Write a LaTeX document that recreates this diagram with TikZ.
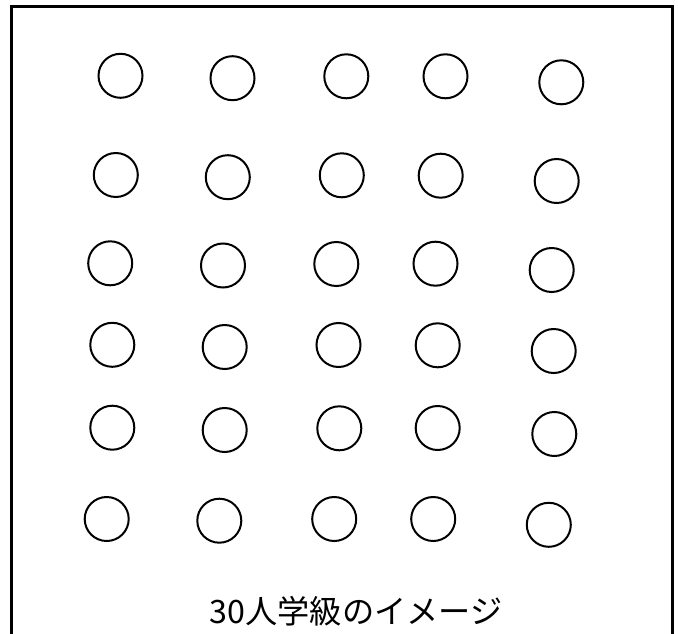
\documentclass[tikz,border=0pt]{standalone}
\usepackage{fontspec}
\newfontfamily\cjk{Noto Sans CJK JP}
\begin{document}
\begin{tikzpicture}[x=1pt,y=-1pt,
  seat/.style={circle,draw=black,line width=2pt,minimum size=44pt,inner sep=0pt},
  frameline/.style={line width=3pt,line join=miter}]
\useasboundingbox (0,0) rectangle (678,634);
\draw[frameline] (11.5,640) -- (11.5,6.3) -- (672.2,6.3) -- (672.2,640);
% row 1
\node[seat] (s11) at (120.5,75.8) {};
\node[seat] (s12) at (232.5,78.2) {};
\node[seat] (s13) at (346.3,76.3) {};
\node[seat] (s14) at (445.5,76.3) {};
\node[seat] (s15) at (561.3,82.3) {};
% row 2
\node[seat] (s21) at (115.8,175) {};
\node[seat] (s22) at (227.8,177.2) {};
\node[seat] (s23) at (341.8,175.3) {};
\node[seat] (s24) at (440.7,175.7) {};
\node[seat] (s25) at (556.7,181) {};
% row 3
\node[seat] (s31) at (110.2,263.3) {};
\node[seat] (s32) at (223,265.5) {};
\node[seat] (s33) at (336.3,264) {};
\node[seat] (s34) at (435.5,263.7) {};
\node[seat] (s35) at (551.7,270) {};
% row 4
\node[seat] (s41) at (112.3,344.8) {};
\node[seat] (s42) at (224.7,347) {};
\node[seat] (s43) at (338.5,345) {};
\node[seat] (s44) at (437.7,345.3) {};
\node[seat] (s45) at (553.7,351) {};
% row 5
\node[seat] (s51) at (112.3,427.7) {};
\node[seat] (s52) at (224.7,430) {};
\node[seat] (s53) at (339.3,428.3) {};
\node[seat] (s54) at (437.7,428) {};
\node[seat] (s55) at (554.3,434) {};
% row 6
\node[seat] (s61) at (106.7,519) {};
\node[seat] (s62) at (219.3,520.7) {};
\node[seat] (s63) at (334.2,519) {};
\node[seat] (s64) at (433.2,519) {};
\node[seat] (s65) at (548.8,524.8) {};
% caption
\node[anchor=base west,inner sep=0pt,font=\cjk\fontsize{32.2}{32.2}\selectfont] (cap) at (209.5,623) {30人学級のイメージ};
\end{tikzpicture}
\end{document}
